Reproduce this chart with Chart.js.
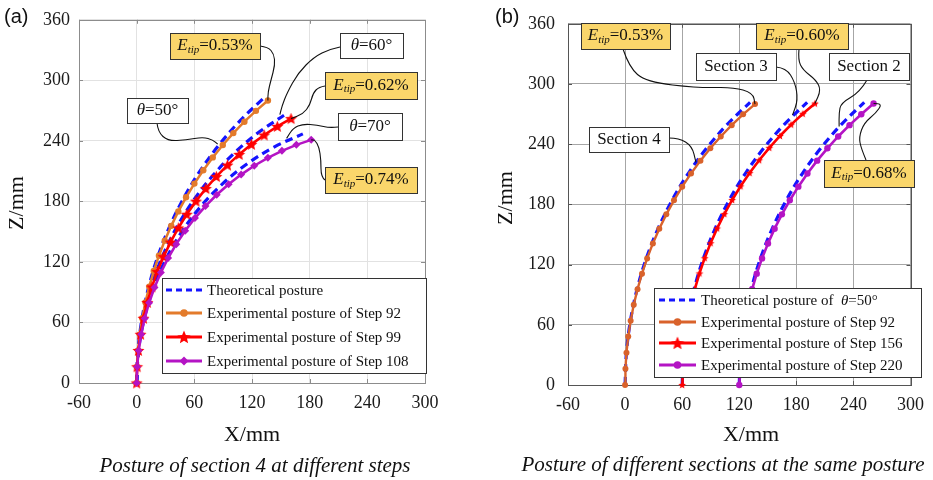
<!DOCTYPE html>
<html><head><meta charset="utf-8">
<script src="https://cdn.jsdelivr.net/npm/chart.js@4.4.0/dist/chart.umd.min.js"></script>
<style>
html,body{margin:0;padding:0;background:#fff;}
#wrap{position:relative;width:933px;height:480px;overflow:hidden;background:#fff;}
#ca{position:absolute;left:0;top:0;}
#cb{position:absolute;left:466px;top:0;}
</style></head><body>
<div id="wrap"><canvas id="ca" width="466" height="480"></canvas><canvas id="cb" width="467" height="480"></canvas></div>
<script>
// ---------------- data ----------------
const xTickValues = [-60, 0, 60, 120, 180, 240, 300];
const zTickValues = [0, 60, 120, 180, 240, 300, 360];

// theoretical postures (section 4), bending angle 50, 60, 70 deg
const theo50X = [0, 1.40, 5.59, 12.53, 22.18, 34.46, 49.27, 66.52, 86.05, 107.7, 131.4];
const theo50Z = [0, 32.06, 63.87, 95.19, 125.8, 155.4, 183.9, 211.0, 236.4, 260.1, 281.7];
const theo60X = [0, 1.68, 6.70, 15.00, 26.50, 41.06, 58.54, 78.73, 101.4, 126.3, 153.3];
const theo60Z = [0, 32.04, 63.72, 94.71, 124.7, 153.3, 180.2, 205.1, 227.8, 248.0, 265.4];
const theo70X = [0, 1.96, 7.80, 17.45, 30.75, 47.51, 67.48, 90.35, 115.8, 143.4, 172.9];
const theo70Z = [0, 32.02, 63.55, 94.14, 123.3, 150.7, 175.8, 198.3, 217.8, 234.1, 246.9];

// experimental postures, panel (a)
const step92X  = [0, 0.37, 1.46, 3.29, 5.84, 9.11, 13.09, 17.78, 23.16, 29.22, 35.96, 43.35, 51.39, 60.05, 69.32, 79.18, 89.60, 100.57, 112.08, 124.07, 136.56];
const step92Z  = [0, 16.12, 32.20, 48.22, 64.14, 79.93, 95.55, 110.98, 126.17, 141.11, 155.75, 170.08, 184.06, 197.65, 210.84, 223.60, 235.89, 247.70, 259.00, 269.77, 279.98];
const step99X  = [0, 0.44, 1.78, 3.99, 7.08, 11.04, 15.85, 21.51, 27.99, 35.27, 43.34, 52.16, 61.71, 71.97, 82.90, 94.46, 106.63, 119.37, 132.63, 146.38, 160.58];
const step99Z  = [0, 16.16, 32.27, 48.29, 64.15, 79.83, 95.26, 110.41, 125.22, 139.66, 153.67, 167.21, 180.26, 192.75, 204.67, 215.96, 226.61, 236.57, 245.81, 254.31, 262.05];
const step108X = [0, 0.52, 2.09, 4.69, 8.32, 12.96, 18.58, 25.18, 32.72, 41.16, 50.48, 60.64, 71.58, 83.27, 95.66, 108.70, 122.33, 136.50, 151.13, 166.19, 181.60];
const step108Z = [0, 16.18, 32.29, 48.26, 64.04, 79.55, 94.72, 109.51, 123.83, 137.64, 150.88, 163.48, 175.40, 186.60, 197.02, 206.61, 215.34, 223.17, 230.08, 236.03, 240.99];

// panel (b): theoretical posture of theta=50 deg for sections 3 and 2 (bases at x=60, x=120)
const theoS3X = [60, 61.40, 65.59, 72.53, 82.18, 94.46, 109.27, 126.52, 146.05, 167.7, 191.4];
const theoS2X = [120, 121.40, 125.59, 132.53, 142.18, 154.46, 169.27, 186.52, 206.05, 227.7, 251.4];
// experimental, panel (b)
const step156X = [60, 60.38, 61.49, 63.36, 65.97, 69.31, 73.38, 78.17, 83.67, 89.86, 96.75, 104.30, 112.52, 121.37, 130.85, 140.92, 151.57, 162.78, 174.55, 186.80, 199.56];
const step156Z = [0, 16.15, 32.26, 48.32, 64.27, 80.09, 95.74, 111.20, 126.42, 141.39, 156.06, 170.42, 184.43, 198.05, 211.26, 224.05, 236.36, 248.20, 259.52, 270.31, 280.54];
const step220X = [120, 120.38, 121.51, 123.40, 126.04, 129.42, 133.54, 138.38, 143.95, 150.21, 157.18, 164.82, 173.14, 182.09, 191.68, 201.87, 212.65, 223.99, 235.89, 248.29, 261.20];
const step220Z = [0, 16.1, 32.2, 48.2, 64.1, 79.9, 95.5, 111.0, 126.2, 141.1, 155.8, 170.1, 184.1, 197.7, 210.8, 223.6, 235.9, 247.7, 259.0, 269.8, 280.6];

// ---------------- helpers ----------------
const SERIF = '"Liberation Serif", "Times New Roman", Times, serif';
const SANS = '"Liberation Sans", Arial, sans-serif';
const YELLOW = '#FAD66B';
const BLUE = '#1414FF';
const ORANGE_A = '#E37B2B';
const ORANGE_B = '#D9622B';
const RED = '#FF0000';
const PURPLE = '#B414C4';

function pts(xs, zs) { return xs.map((x, i) => ({ x: x, y: zs[i] })); }

function starCanvas(r, color) {
  const s = Math.ceil(r * 2 + 2);
  const c = document.createElement('canvas'); c.width = s; c.height = s;
  const g = c.getContext('2d');
  g.translate(s / 2, s / 2 + r * 0.08);
  g.beginPath();
  for (let i = 0; i < 10; i++) {
    const rr = i % 2 ? r * 0.45 : r;
    const a = -Math.PI / 2 + i * Math.PI / 5;
    g.lineTo(rr * Math.cos(a), rr * Math.sin(a));
  }
  g.closePath(); g.fillStyle = color; g.fill();
  return c;
}
const starA = starCanvas(6.3, RED);
const starB = starCanvas(4, RED);
const starLegend = starCanvas(7, RED);

function fontOf(p) { return (p.i ? 'italic ' : '') + (p.size || 17) + 'px ' + SERIF; }
function richWidth(ctx, parts) { let w = 0; parts.forEach(p => { ctx.font = fontOf(p); w += ctx.measureText(p.t).width; }); return w; }
function drawRich(ctx, parts, x, y, align) {
  const w = richWidth(ctx, parts);
  let cx = align === 'center' ? x - w / 2 : x;
  ctx.textBaseline = 'middle'; ctx.textAlign = 'left'; ctx.fillStyle = '#111';
  parts.forEach(p => { ctx.font = fontOf(p); ctx.fillText(p.t, cx, y + (p.dy || 0)); cx += ctx.measureText(p.t).width; });
}
function etip(v) { return [{ t: 'E', i: true, size: 17 }, { t: 'tip', i: true, size: 11, dy: 4 }, { t: '=' + v, size: 17 }]; }
function theta(v) { return [{ t: 'θ', i: true, size: 17 }, { t: '=' + v + '°', size: 17 }]; }
function plain(s) { return [{ t: s, size: 17 }]; }

function smoothPath(ctx, p) {
  ctx.beginPath(); ctx.moveTo(p[0][0], p[0][1]);
  for (let i = 1; i < p.length - 1; i++) {
    const mx = (p[i][0] + p[i + 1][0]) / 2, my = (p[i][1] + p[i + 1][1]) / 2;
    ctx.quadraticCurveTo(p[i][0], p[i][1], mx, my);
  }
  ctx.lineTo(p[p.length - 1][0], p[p.length - 1][1]);
  ctx.stroke();
}

function drawMarker(ctx, kind, x, y, color, r) {
  ctx.save(); ctx.fillStyle = color;
  if (kind === 'circle') { ctx.beginPath(); ctx.arc(x, y, r, 0, Math.PI * 2); ctx.fill(); }
  else if (kind === 'diamond') { ctx.beginPath(); ctx.moveTo(x, y - r); ctx.lineTo(x + r, y); ctx.lineTo(x, y + r); ctx.lineTo(x - r, y); ctx.closePath(); ctx.fill(); }
  else if (kind === 'star') { ctx.drawImage(starLegend, x - starLegend.width / 2, y - starLegend.height / 2); }
  ctx.restore();
}

function makeChart(canvas, cfg) {
  const plugin = {
    id: 'extras',
    beforeDatasetsDraw(chart) {
      const ctx = chart.ctx, a = chart.chartArea;
      ctx.save();
      ctx.strokeStyle = cfg.borderColor; ctx.lineWidth = 1;
      ctx.strokeRect(Math.round(a.left) + 0.5, Math.round(a.top) + 0.5, Math.round(a.right - a.left), Math.round(a.bottom - a.top));
      const sx = chart.scales.x, sy = chart.scales.y;
      xTickValues.forEach(v => { const px = Math.round(sx.getPixelForValue(v)) + 0.5;
        ctx.beginPath(); ctx.moveTo(px, a.bottom); ctx.lineTo(px, a.bottom - 4); ctx.moveTo(px, a.top); ctx.lineTo(px, a.top + 4); ctx.stroke(); });
      zTickValues.forEach(v => { const py = Math.round(sy.getPixelForValue(v)) + 0.5;
        ctx.beginPath(); ctx.moveTo(a.left, py); ctx.lineTo(a.left + 4, py); ctx.moveTo(a.right, py); ctx.lineTo(a.right - 4, py); ctx.stroke(); });
      ctx.restore();
    },
    afterDatasetsDraw(chart) {
      const ctx = chart.ctx;
      const L = cfg.legend;
      ctx.save();
      ctx.fillStyle = '#fff'; ctx.strokeStyle = '#333'; ctx.lineWidth = 1;
      ctx.fillRect(L.box[0], L.box[1], L.box[2] - L.box[0], L.box[3] - L.box[1]);
      ctx.strokeRect(L.box[0] + 0.5, L.box[1] + 0.5, L.box[2] - L.box[0], L.box[3] - L.box[1]);
      L.items.forEach((it, k) => {
        const y = L.rows[k];
        ctx.save();
        ctx.strokeStyle = it.color; ctx.lineWidth = it.dash ? 3 : 2.8;
        if (it.dash) ctx.setLineDash([6, 4]);
        ctx.beginPath(); ctx.moveTo(L.line[0], y); ctx.lineTo(L.line[1], y); ctx.stroke();
        ctx.restore();
        if (it.marker) drawMarker(ctx, it.marker, (L.line[0] + L.line[1]) / 2, y, it.color, it.mr);
        drawRich(ctx, it.text, L.textX, y + 1, 'left');
      });
      cfg.annotations.forEach(an => {
        const ax = chart.scales.x.getPixelForValue(an.anchor[0]);
        const ay = chart.scales.y.getPixelForValue(an.anchor[1]);
        ctx.save();
        ctx.strokeStyle = '#111'; ctx.lineWidth = 1.1;
        smoothPath(ctx, an.path.concat([[ax, ay]]));
        const b = an.box;
        ctx.fillStyle = an.fill; ctx.fillRect(b[0], b[1], b[2] - b[0], b[3] - b[1]);
        ctx.strokeStyle = '#333'; ctx.lineWidth = 1;
        ctx.strokeRect(b[0] + 0.5, b[1] + 0.5, b[2] - b[0], b[3] - b[1]);
        drawRich(ctx, an.text, (b[0] + b[2]) / 2, (b[1] + b[3]) / 2, 'center');
        ctx.restore();
      });
      ctx.restore();
    },
    afterDraw(chart) {
      const ctx = chart.ctx;
      ctx.save();
      ctx.fillStyle = '#111';
      ctx.textBaseline = 'middle'; ctx.textAlign = 'left';
      ctx.font = '20px ' + SANS;
      ctx.fillText(cfg.panel, cfg.panelPos[0], cfg.panelPos[1]);
      ctx.textAlign = 'center';
      ctx.font = '22px ' + SERIF;
      ctx.fillText('X/mm', cfg.xTitle[0], cfg.xTitle[1]);
      ctx.save(); ctx.translate(cfg.yTitle[0], cfg.yTitle[1]); ctx.rotate(-Math.PI / 2);
      ctx.fillText('Z/mm', 0, 0); ctx.restore();
      ctx.font = 'italic 21px ' + SERIF;
      ctx.fillText(cfg.caption, cfg.capPos[0], cfg.capPos[1]);
      ctx.restore();
    }
  };
  const tickFont = { family: SERIF, size: 18 };
  return new Chart(canvas, {
    type: 'scatter',
    data: { datasets: cfg.datasets },
    options: {
      responsive: false, animation: false, devicePixelRatio: 1,
      layout: { padding: cfg.padding },
      plugins: { legend: { display: false }, tooltip: { enabled: false } },
      scales: {
        x: {
          type: 'linear', min: -60, max: 300,
          afterBuildTicks: s => { s.ticks = xTickValues.map(v => ({ value: v })); },
          afterFit: s => { s.height = cfg.xAxisH; },
          ticks: { font: tickFont, color: '#1a1a1a', padding: cfg.xTickPad, maxRotation: 0, autoSkip: false },
          grid: { color: cfg.gridColor, lineWidth: 1, drawTicks: false },
          border: { display: false }
        },
        y: {
          type: 'linear', min: 0, max: 360,
          afterBuildTicks: s => { s.ticks = zTickValues.map(v => ({ value: v })); },
          afterFit: s => { s.width = cfg.yAxisW; },
          ticks: { font: tickFont, color: '#1a1a1a', padding: cfg.yTickPad, autoSkip: false },
          grid: { color: cfg.gridColor, lineWidth: 1, drawTicks: false },
          border: { display: false }
        }
      }
    },
    plugins: [plugin]
  });
}

function theoDS(xs, zs) {
  return { data: pts(xs, zs), showLine: true, borderColor: BLUE, borderWidth: 3.2, borderDash: [8, 5],
    pointRadius: 0, tension: 0.35, fill: false, order: 5, clip: 10 };
}

// ---------------- panel (a) ----------------
makeChart(document.getElementById('ca'), {
  padding: { left: 0, right: 41, top: 18, bottom: 0 },
  yAxisW: 79, xAxisH: 97, xTickPad: 9, yTickPad: 9,
  gridColor: '#E2E2E2', borderColor: '#8C8C8C',
  panel: '(a)', panelPos: [4, 17],
  xTitle: [252, 435], yTitle: [17, 203],
  caption: 'Posture of section 4 at different steps', capPos: [255, 466],
  datasets: [
    theoDS(theo50X, theo50Z), theoDS(theo60X, theo60Z), theoDS(theo70X, theo70Z),
    { data: pts(step92X, step92Z), showLine: true, borderColor: ORANGE_A, borderWidth: 2.5, pointStyle: 'circle',
      pointRadius: 3.2, pointBackgroundColor: ORANGE_A, pointBorderWidth: 0, order: 3, clip: 10 },
    { data: pts(step99X, step99Z), showLine: true, borderColor: RED, borderWidth: 2.6, pointStyle: starA,
      pointRadius: 5, order: 2, clip: 10 },
    { data: pts(step108X, step108Z), showLine: true, borderColor: PURPLE, borderWidth: 2.6, pointStyle: 'rectRot',
      pointRadius: 4, pointBackgroundColor: PURPLE, pointBorderColor: PURPLE, pointBorderWidth: 0, order: 1, clip: 10 }
  ],
  legend: {
    box: [162, 278, 426, 373], line: [166, 202], textX: 207, rows: [290, 313, 337, 361],
    items: [
      { color: BLUE, dash: true, text: [{ t: 'Theoretical posture', size: 15 }] },
      { color: ORANGE_A, marker: 'circle', mr: 3.8, text: [{ t: 'Experimental posture of Step 92', size: 15 }] },
      { color: RED, marker: 'star', mr: 6, text: [{ t: 'Experimental posture of Step 99', size: 15 }] },
      { color: PURPLE, marker: 'diamond', mr: 4.5, text: [{ t: 'Experimental posture of Step 108', size: 15 }] }
    ]
  },
  annotations: [
    { text: etip('0.53%'), fill: YELLOW, box: [170, 33, 260, 59],
      path: [[260, 46], [268, 47], [274, 54], [275, 65], [271, 80], [268, 92]], anchor: [step92X[20], step92Z[20]] },
    { text: theta('60'), fill: '#fff', box: [340, 33, 403, 58],
      path: [[340, 47], [330, 49], [314, 57], [298, 73], [287, 93], [282, 106]], anchor: [149, 266] },
    { text: etip('0.62%'), fill: YELLOW, box: [325, 72, 417, 99],
      path: [[325, 86], [319, 87], [313, 93], [310, 105], [303, 114]], anchor: [step99X[20], step99Z[20]] },
    { text: theta('70'), fill: '#fff', box: [338, 113, 402, 140],
      path: [[338, 127], [330, 128], [317, 125], [303, 124], [293, 128]], anchor: [156, 242.5] },
    { text: etip('0.74%'), fill: YELLOW, box: [325, 167, 417, 193],
      path: [[325, 180], [321, 177], [321, 160], [319, 147], [315, 140]], anchor: [step108X[20], step108Z[20]] },
    { text: theta('50'), fill: '#fff', box: [127, 98, 188, 123],
      path: [[157, 123], [158, 132], [168, 141], [186, 140], [203, 137], [213, 140]], anchor: [84.3, 236.7] }
  ]
});

// ---------------- panel (b) ----------------
makeChart(document.getElementById('cb'), {
  padding: { left: 0, right: 15, top: 17, bottom: 0 },
  yAxisW: 102, xAxisH: 95, xTickPad: 9, yTickPad: 13,
  gridColor: '#A6A6A6', borderColor: '#555555',
  panel: '(b)', panelPos: [29, 17],
  xTitle: [285, 435], yTitle: [40, 198],
  caption: 'Posture of different sections at the same posture', capPos: [257, 465],
  datasets: [
    theoDS(theo50X, theo50Z), theoDS(theoS3X, theo50Z), theoDS(theoS2X, theo50Z),
    { data: pts(step92X, step92Z), showLine: true, borderColor: ORANGE_B, borderWidth: 2.4, pointStyle: 'circle',
      pointRadius: 3, pointBackgroundColor: ORANGE_B, pointBorderWidth: 0, order: 3, clip: 10 },
    { data: pts(step156X, step156Z), showLine: true, borderColor: RED, borderWidth: 2.6, pointStyle: starB,
      pointRadius: 4, order: 2, clip: 10 },
    { data: pts(step220X, step220Z), showLine: true, borderColor: PURPLE, borderWidth: 2.6, pointStyle: 'circle',
      pointRadius: 3.2, pointBackgroundColor: PURPLE, pointBorderWidth: 0, order: 1, clip: 10 }
  ],
  legend: {
    box: [188, 288, 455, 377], line: [193, 230], textX: 235, rows: [300, 322, 343, 365],
    items: [
      { color: BLUE, dash: true, text: [{ t: 'Theoretical posture of  ', size: 15 }, { t: 'θ', i: true, size: 15 }, { t: '=50°', size: 15 }] },
      { color: ORANGE_B, marker: 'circle', mr: 3.8, text: [{ t: 'Experimental posture of Step 92', size: 15 }] },
      { color: RED, marker: 'star', mr: 6, text: [{ t: 'Experimental posture of Step 156', size: 15 }] },
      { color: PURPLE, marker: 'circle', mr: 3.8, text: [{ t: 'Experimental posture of Step 220', size: 15 }] }
    ]
  },
  annotations: [
    { text: etip('0.53%'), fill: YELLOW, box: [115, 23, 204, 49],
      path: [[157, 49], [163, 67], [180, 82], [233, 88], [267, 87], [287, 93]], anchor: [step92X[20], step92Z[20]] },
    { text: etip('0.60%'), fill: YELLOW, box: [290, 23, 382, 49],
      path: [[333, 49], [332, 60], [337, 70], [350, 80], [355, 90]], anchor: [step156X[20], step156Z[20]] },
    { text: plain('Section 3'), fill: '#fff', box: [230, 53, 310, 80],
      path: [[310, 67], [320, 68], [329, 82], [332, 100]], anchor: [176, 269] },
    { text: plain('Section 2'), fill: '#fff', box: [363, 53, 443, 80],
      path: [[401, 80], [394, 92], [375, 103], [373, 113]], anchor: [225, 257.6] },
    { text: plain('Section 4'), fill: '#fff', box: [123, 127, 203, 152],
      path: [[203, 138], [213, 138], [226, 146]], anchor: [74.5, 222] },
    { text: etip('0.68%'), fill: YELLOW, box: [358, 160, 448, 187],
      path: [[400, 160], [395, 148], [393, 137], [398, 123], [410, 113], [416, 104]], anchor: [step220X[20], step220Z[20]] }
  ]
});
</script>
</body></html>
